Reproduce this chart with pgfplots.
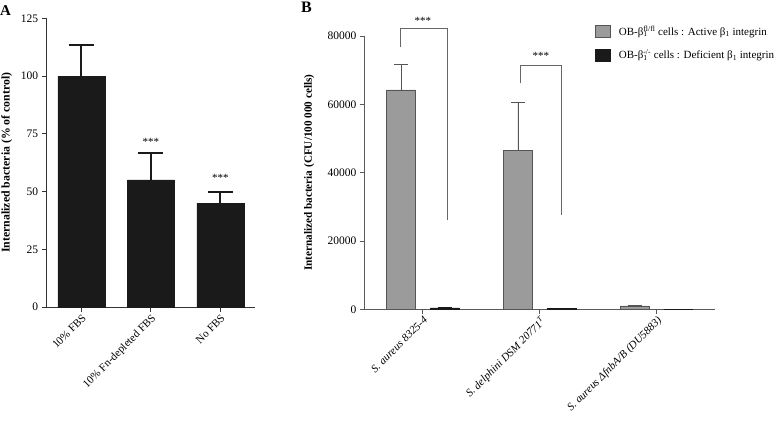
\documentclass[border=0pt]{standalone}
\usepackage{pgfplots}
\pgfplotsset{compat=1.18}
\usepackage{fontspec}
\setmainfont{Liberation Serif}
\definecolor{barblack}{HTML}{1A1A1A}
\definecolor{bargray}{HTML}{9B9B9B}
\definecolor{bargrayedge}{HTML}{555555}
\newcommand\fs{\fontsize{11}{13}\selectfont}
\begin{document}
\begin{tikzpicture}
\useasboundingbox (0,0) rectangle (783pt,421pt);
\node[anchor=north west, inner sep=0pt, font=\bfseries\fontsize{15}{15}\selectfont] at (0pt,416pt) {A};
\node[anchor=north west, inner sep=0pt, font=\bfseries\fontsize{16}{16}\selectfont] at (301pt,419pt) {B};
% Panel A
\begin{axis}[
  at={(46.7pt,114pt)}, anchor=south west, scale only axis,
  width=208.3pt, height=288.7pt,
  xmin=-0.5, xmax=2.5, ymin=0, ymax=125,
  axis x line*=bottom, axis y line*=left,
  axis line style={black!80, line width=0.8pt},
  every tick/.style={black!80, line width=0.8pt},
  tick align=outside, major tick length=5pt,
  xtick={0,1,2}, xticklabels={10\% FBS, 10\% Fn-depleted FBS, No FBS},
  ytick={0,25,50,75,100,125},
  /pgf/number format/assume math mode=true,
  tick label style={font=\fs},
  y tick label style={font=\fontsize{11.5}{13}\selectfont},
  x tick label style={rotate=45, anchor=north east, inner sep=1pt},
  every axis y label/.style={at={(rel axis cs:0,0.5)}, rotate=90, anchor=center, yshift=40pt},
  ylabel={\textbf{Internalized bacteria (\% of control)}},
  label style={font=\fontsize{11.8}{13}\selectfont},
  clip=false,
]
\addplot[ybar, bar width=47pt, fill=barblack, draw=barblack,
  error bars/.cd, y dir=plus, y explicit,
  error bar style={line width=2pt, barblack},
  error mark options={rotate=90, mark size=12.5pt, line width=2pt, barblack}]
  coordinates {(0,100) +- (0,13.3) (1,55) +- (0,11.5) (2,45) +- (0,4.7)};
\node[font=\fs] at (axis cs:1,71.5) {***};
\node[font=\fs] at (axis cs:2,56) {***};
\end{axis}
% Panel B
\begin{axis}[
  at={(364.3pt,111.7pt)}, anchor=south west, scale only axis,
  width=350.7pt, height=273.3pt,
  xmin=-0.5, xmax=2.5, ymin=0, ymax=80000,
  axis x line*=bottom, axis y line*=left,
  axis line style={black!65, line width=0.8pt},
  every tick/.style={black!65, line width=0.8pt},
  tick align=outside, major tick length=4.5pt,
  xtick={0,1,2},
  xticklabels={S. aureus 8325-4, S. delphini DSM 20771\textsuperscript{T}, S. aureus ΔfnbA/B (DU5883)},
  ytick={0,20000,40000,60000,80000},
  scaled y ticks=false,
  /pgf/number format/1000 sep={},
  /pgf/number format/assume math mode=true,
  tick label style={font=\fontsize{11.5}{13}\selectfont},
  x tick label style={rotate=45, anchor=north east, inner sep=1pt, font=\fs\itshape},
  every axis y label/.style={at={(rel axis cs:0,0.5)}, rotate=90, anchor=center, yshift=55pt},
  ylabel={\textbf{Internalized bacteria (CFU/100 000 cells)}},
  label style={font=\fontsize{11.2}{13}\selectfont},
  clip=false,
  legend style={draw=none, fill=none, at={(rel axis cs:0.658,1.045)}, anchor=north west,
    font=\fs, row sep=9pt, inner sep=0pt, cells={anchor=west}},
  legend cell align=left,
]
\addplot[ybar, bar width=29pt, fill=bargray, draw=bargrayedge, line width=0.6pt,
  legend image code/.code={\draw[fill=bargray, draw=bargrayedge] (0pt,-6pt) rectangle (15pt,6pt);},
  error bars/.cd, y dir=plus, y explicit,
  error bar style={line width=0.7pt, bargrayedge},
  error mark options={rotate=90, mark size=7pt, line width=0.7pt, bargrayedge}]
  coordinates {(-0.186,64200) +- (0,7600) (0.814,46400) +- (0,14300) (1.814,1000) +- (0,200)};
\addlegendentry{\hspace{6pt}OB-β\rlap{\textsubscript{1}}\textsuperscript{fl/fl} cells : Active β\textsubscript{1} integrin}
\addplot[ybar, bar width=29pt, fill=barblack, draw=barblack, line width=0.6pt,
  legend image code/.code={\draw[fill=barblack, draw=barblack] (0pt,-6pt) rectangle (15pt,6pt);},
  error bars/.cd, y dir=plus, y explicit,
  error bar style={line width=0.7pt, barblack},
  error mark options={rotate=90, mark size=7pt, line width=0.7pt, barblack}]
  coordinates {(0.186,400) +- (0,100) (1.186,300) +- (0,80) (2.186,0) +- (0,0)};
\addlegendentry{\hspace{6pt}OB-β\rlap{\textsubscript{1}}\textsuperscript{-/-} cells : Deficient β\textsubscript{1} integrin}
\addplot[black!60, line width=0.8pt, forget plot] coordinates {(-0.19,76900) (-0.19,82100) (0.21,82100) (0.21,26100)};
\addplot[black!60, line width=0.8pt, forget plot] coordinates {(0.835,66150) (0.835,71300) (1.19,71300) (1.19,27600)};
\node[font=\fs] at (axis cs:0.0,84500) {***};
\node[font=\fs] at (axis cs:1.01,74300) {***};
\end{axis}
\end{tikzpicture}
\end{document}
